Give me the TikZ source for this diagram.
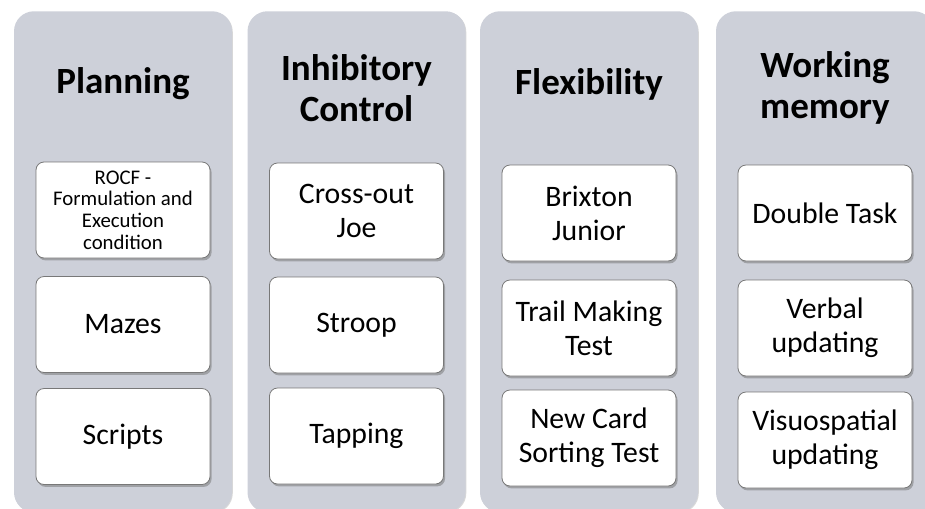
\documentclass[tikz,border=0pt]{standalone}
\usepackage{fontspec}
\setmainfont{Carlito}
\usetikzlibrary{shadows}
\definecolor{colgray}{RGB}{205,208,217}
\definecolor{boxline}{RGB}{120,120,120}
\begin{document}
\begin{tikzpicture}[x=0.75pt,y=-0.75pt,
  col/.style={fill=colgray, draw=none, rounded corners=15pt, inner sep=0pt,
    minimum width=163.5pt, minimum height=375.75pt, anchor=north,
    drop shadow={shadow xshift=0.6pt, shadow yshift=-0.6pt, opacity=0.25, fill=black!60}},
  title/.style={font=\bfseries\fontsize{27.75}{30.5}\selectfont, align=center, inner sep=0pt},
  item/.style={fill=white, draw=boxline, line width=0.6pt, rounded corners=6pt,
    minimum width=130.5pt, minimum height=72pt, inner sep=2pt, align=center,
    font=\fontsize{22.3}{25.5}\selectfont,
    drop shadow={shadow xshift=1.2pt, shadow yshift=-1.8pt, opacity=0.5, fill=black!55}},
  small/.style={font=\fontsize{15.6}{16.3}\selectfont}
]
\useasboundingbox (0,0) rectangle (925,508);
\clip (0,0) rectangle (925,508);
% columns
\node[col] (c1) at (123,11) {};
\node[col] (c2) at (356.5,11) {};
\node[col] (c3) at (589,11) {};
\node[col] (c4) at (825,11) {};
% titles
\node[title] (t1) at (123,84) {Planning};
\node[title] (t2) at (356.5,88) {Inhibitory\\Control};
\node[title] (t3) at (589,84) {Flexibility};
\node[title] (t4) at (825,88) {Working\\memory};
% column 1
\node[item, small] (p1) at (123,210) {ROCF -\\Formulation and\\Execution\\condition};
\node[item] (p2) at (123,324.5) {Mazes};
\node[item] (p3) at (123,436.5) {Scripts};
% column 2
\node[item] (i1) at (356.5,211) {Cross-out\\Joe};
\node[item] (i2) at (356.5,325) {Stroop};
\node[item] (i3) at (356.5,436) {Tapping};
% column 3
\node[item] (f1) at (589,213) {Brixton\\Junior};
\node[item] (f2) at (589,328) {Trail Making\\Test};
\node[item] (f3) at (589,438) {New Card\\Sorting Test};
% column 4
\node[item] (w1) at (825,213) {Double Task};
\node[item] (w2) at (825,328) {Verbal\\updating};
\node[item] (w3) at (825,440) {Visuospatial\\updating};
\end{tikzpicture}
\end{document}
